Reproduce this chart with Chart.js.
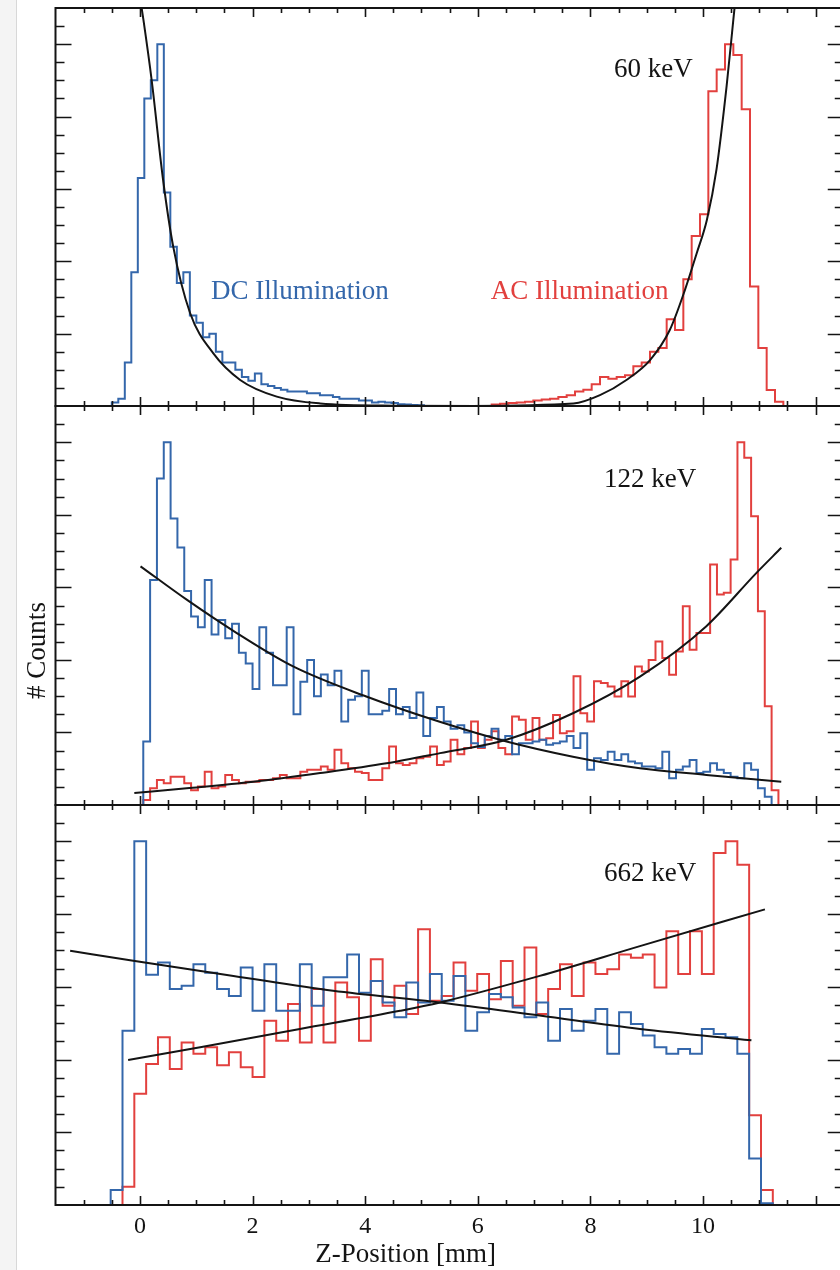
<!DOCTYPE html>
<html lang="en">
<head>
  <meta charset="UTF-8">
  <title>Z-Position</title>
  <style>
    html, body {
      margin: 0;
      padding: 0;
      background: #ffffff;
      overflow: hidden;
    }
    body {
      position: relative;
      width: 840px;
      height: 1270px;
    }
    #strip {
      position: absolute;
      left: 0;
      top: 0;
      width: 16px;
      height: 1270px;
      background: #f4f4f4;
      border-right: 1px solid #d8d8d8;
    }
    canvas {
      position: absolute;
      left: 0;
    }
    #c60 { top: 0; }
    #c122 { top: 400px; }
    #c662 { top: 800px; }
  </style>
</head>
<body>
  <div id="strip"></div>
  <canvas id="c60" width="850" height="410"></canvas>
  <canvas id="c122" width="850" height="410"></canvas>
  <canvas id="c662" width="850" height="470"></canvas>

  <script src="https://cdn.jsdelivr.net/npm/chart.js"></script>
  <script>
    // x axis (mm) and tick labels
    const X_MIN = -1.5, X_MAX = 12.5;
    const X_LABELS = [0, 2, 4, 6, 8, 10];
    const Y_MAX = 1.1;

    // 60 keV: histograms (normalised counts per bin)
    const dc60Start = -0.50, dc60Width = 0.1155;
    const dc60 = [0.01, 0.02, 0.12, 0.37, 0.63, 0.85, 0.90, 1.0, 0.59, 0.44, 0.34, 0.37, 0.25, 0.23, 0.19, 0.20,
      0.15, 0.12, 0.12, 0.10, 0.08, 0.07, 0.09, 0.06, 0.055, 0.05, 0.045, 0.04, 0.04, 0.04, 0.035, 0.035,
      0.03, 0.03, 0.025, 0.02, 0.02, 0.02, 0.015, 0.015, 0.01, 0.012, 0.01, 0.008, 0.005, 0.004, 0.003, 0.002];
    const ac60Start = 6.247, ac60Width = 0.148;
    const ac60 = [0.004, 0.006, 0.008, 0.01, 0.012, 0.015, 0.018, 0.02, 0.025, 0.03, 0.04, 0.045, 0.06, 0.08,
      0.075, 0.08, 0.085, 0.11, 0.12, 0.15, 0.16, 0.24, 0.21, 0.35, 0.47, 0.53, 0.87, 0.93, 1.0, 0.97, 0.82,
      0.33, 0.16, 0.044, 0.012];
    // 60 keV: fit curves
    const dc60FitX = [0.0, 0.06, 0.21, 0.41, 0.59, 0.89, 1.30, 1.78, 2.43, 3.2, 4.5, 6.5];
    const dc60FitY = [1.13, 1.069, 0.898, 0.626, 0.441, 0.257, 0.146, 0.072, 0.026, 0.007, 0.001, 0];
    const ac60FitX = [5.5, 7.70, 8.17, 8.64, 9.06, 9.41, 9.68, 9.89, 10.07, 10.24, 10.42, 10.54, 10.58];
    const ac60FitY = [0, 0.007, 0.030, 0.072, 0.127, 0.21, 0.321, 0.423, 0.515, 0.654, 0.885, 1.069, 1.13];

    // 122 keV
    const dc122Start = 0.059, dc122Width = 0.1213;
    const dc122 = [0.175, 0.62, 0.90, 1.0, 0.79, 0.71, 0.59, 0.52, 0.49, 0.62, 0.47, 0.51, 0.46, 0.50, 0.42,
      0.39, 0.32, 0.49, 0.42, 0.33, 0.33, 0.49, 0.25, 0.34, 0.40, 0.30, 0.36, 0.33, 0.37, 0.23, 0.29, 0.30,
      0.37, 0.25, 0.25, 0.26, 0.32, 0.25, 0.27, 0.24, 0.31, 0.19, 0.24, 0.27,
      0.23, 0.21, 0.22, 0.20, 0.17, 0.16, 0.19, 0.21, 0.18, 0.19, 0.14, 0.17, 0.17, 0.175, 0.18, 0.166,
      0.17, 0.175, 0.19, 0.157, 0.198, 0.097, 0.129, 0.124, 0.147, 0.124, 0.14, 0.12, 0.115, 0.106, 0.106,
      0.101, 0.147, 0.074, 0.097, 0.106, 0.124, 0.088, 0.092, 0.115, 0.097, 0.088, 0.078, 0.074, 0.115,
      0.097, 0.046, 0.023];
    const ac122Start = 0.059, ac122Width = 0.1213;
    const ac122 = [0.014, 0.046, 0.069, 0.06, 0.078, 0.078, 0.06, 0.041, 0.051, 0.092, 0.046, 0.051, 0.083,
      0.069, 0.06, 0.064, 0.064, 0.069, 0.069, 0.074, 0.083, 0.074, 0.074, 0.092, 0.097, 0.097, 0.106, 0.097,
      0.152, 0.115, 0.101, 0.092, 0.088, 0.069, 0.069, 0.101, 0.161, 0.115, 0.11, 0.115, 0.129, 0.133, 0.161,
      0.11,
      0.12, 0.18, 0.14, 0.157, 0.23, 0.157, 0.18, 0.203, 0.157, 0.14, 0.244, 0.235, 0.18, 0.24, 0.18, 0.184,
      0.248, 0.198, 0.203, 0.355, 0.253, 0.23, 0.341, 0.336, 0.327, 0.299, 0.341, 0.299, 0.382, 0.368, 0.40,
      0.451, 0.405, 0.359, 0.423, 0.548, 0.428, 0.474, 0.474, 0.663, 0.58, 0.585, 0.677, 1.0, 0.957, 0.796,
      0.534, 0.272, 0.041];
    const dc122FitX = [0.01, 0.83, 1.72, 2.72, 4.02, 5.31, 6.51, 7.69, 8.88, 10.06, 11.39];
    const dc122FitY = [0.658, 0.566, 0.474, 0.382, 0.299, 0.23, 0.175, 0.133, 0.101, 0.083, 0.064];
    const ac122FitX = [-0.1, 0.83, 2.01, 3.2, 4.38, 5.33, 6.51, 7.69, 8.88, 10.06, 10.95, 11.39];
    const ac122FitY = [0.033, 0.046, 0.064, 0.088, 0.115, 0.143, 0.18, 0.253, 0.354, 0.493, 0.64, 0.709];

    // 662 keV
    const dc662Start = -0.52, dc662Width = 0.21;
    const dc662 = [0.041, 0.479, 1.0, 0.633, 0.667, 0.594, 0.603, 0.662, 0.639, 0.594, 0.575, 0.653, 0.534,
      0.662, 0.534, 0.534, 0.662, 0.548, 0.626, 0.626, 0.689, 0.584, 0.616, 0.557, 0.516, 0.612, 0.557,
      0.635, 0.562, 0.630, 0.479, 0.530, 0.580, 0.571, 0.543, 0.516, 0.557, 0.452, 0.539, 0.479, 0.507,
      0.539, 0.416, 0.530, 0.498, 0.466, 0.434, 0.416, 0.429, 0.416, 0.484, 0.47, 0.461, 0.416, 0.128, 0.005];
    const ac662Start = -0.52, ac662Width = 0.21;
    const ac662 = [0, 0.05, 0.306, 0.388, 0.461, 0.374, 0.447, 0.416, 0.434, 0.384, 0.420, 0.379, 0.352,
      0.507, 0.452, 0.553, 0.447, 0.594, 0.447, 0.612, 0.571, 0.452, 0.676, 0.548, 0.603, 0.525, 0.758,
      0.562, 0.575, 0.667, 0.589, 0.635, 0.566, 0.671, 0.548, 0.708, 0.525, 0.594, 0.662, 0.575, 0.667,
      0.635, 0.648, 0.689, 0.680, 0.689, 0.598, 0.753, 0.635, 0.753, 0.635, 0.968, 1.0, 0.936, 0.247, 0.041];
    const dc662FitX = [-1.24, -0.09, 1.66, 3.43, 5.33, 7.10, 8.88, 10.86];
    const dc662FitY = [0.699, 0.671, 0.630, 0.589, 0.557, 0.521, 0.484, 0.453];
    const ac662FitX = [-0.21, 1.07, 2.84, 4.62, 5.33, 7.10, 8.88, 11.1];
    const ac662FitY = [0.399, 0.434, 0.484, 0.534, 0.557, 0.630, 0.712, 0.813];

    const BLUE = '#3467ab';
    const RED = '#e2403e';
    const INK = '#141414';
    const FONT = '"Liberation Serif", "Times New Roman", serif';

    // outline of a histogram: left edges + closing edge, drawn stepped
    function histPoints(start, width, counts) {
      const pts = [{ x: start, y: 0 }];
      counts.forEach((c, i) => pts.push({ x: start + i * width, y: c }));
      pts.push({ x: start + counts.length * width, y: 0 });
      return pts;
    }

    function curvePoints(xs, ys) {
      return xs.map((x, i) => ({ x: x, y: ys[i] }));
    }

    function histSet(points, color) {
      return {
        data: points,
        borderColor: color,
        borderWidth: 2,
        stepped: true,
        pointRadius: 0,
        fill: false,
        order: 2
      };
    }

    function fitSet(points) {
      return {
        data: points,
        borderColor: INK,
        borderWidth: 2,
        cubicInterpolationMode: 'monotone',
        pointRadius: 0,
        fill: false,
        order: 0
      };
    }

    // closed frame with inward ticks on all four sides
    const framePlugin = {
      id: 'frame',
      afterDatasetsDraw(chart) {
        const ctx = chart.ctx;
        const a = chart.chartArea;
        const x = chart.scales.x, y = chart.scales.y;
        ctx.save();
        ctx.strokeStyle = INK;
        ctx.lineWidth = 2;
        ctx.strokeRect(a.left, a.top, a.right - a.left, a.bottom - a.top);
        ctx.lineWidth = 1.6;
        ctx.beginPath();
        for (let i = 1; i < 28; i++) {
          const v = X_MIN + i * 0.5;
          const px = Math.round(x.getPixelForValue(v)) + 0.5;
          const len = Math.abs(v / 2 - Math.round(v / 2)) < 1e-6 ? 9 : 5;
          ctx.moveTo(px, a.bottom);
          ctx.lineTo(px, a.bottom - len);
          ctx.moveTo(px, a.top);
          ctx.lineTo(px, a.top + len);
        }
        for (let i = 1; i <= 21; i++) {
          const py = Math.round(y.getPixelForValue(i * 0.05)) + 0.5;
          const len = i % 4 === 0 ? 16 : 9;
          ctx.moveTo(a.left, py);
          ctx.lineTo(a.left + len, py);
          ctx.moveTo(a.right, py);
          ctx.lineTo(a.right - len, py);
        }
        ctx.stroke();
        ctx.restore();
      }
    };

    // energy labels, series names and axis titles
    const notesPlugin = {
      id: 'notes',
      afterDatasetsDraw(chart, args, opts) {
        const ctx = chart.ctx;
        const a = chart.chartArea;
        const x = chart.scales.x, y = chart.scales.y;
        ctx.save();
        ctx.textAlign = 'center';
        ctx.textBaseline = 'alphabetic';
        (opts.items || []).forEach(n => {
          ctx.font = (n.size || 27) + 'px ' + FONT;
          ctx.fillStyle = n.color || INK;
          ctx.fillText(n.text, x.getPixelForValue(n.x), y.getPixelForValue(n.y));
        });
        if (opts.yTitle) {
          ctx.translate(a.left - 11, (a.top + a.bottom) / 2 + 45);
          ctx.rotate(-Math.PI / 2);
          ctx.font = '27px ' + FONT;
          ctx.fillStyle = INK;
          ctx.fillText(opts.yTitle, 0, 0);
          ctx.setTransform(1, 0, 0, 1, 0, 0);
        }
        if (opts.xTitle) {
          ctx.font = '27px ' + FONT;
          ctx.fillStyle = INK;
          ctx.fillText(opts.xTitle.text, x.getPixelForValue(opts.xTitle.x), a.bottom + 57);
        }
        ctx.restore();
      }
    };

    function makePanel(id, datasets, padding, showX, notes) {
      const xScale = {
        type: 'linear',
        min: X_MIN,
        max: X_MAX,
        display: showX,
        afterBuildTicks: s => { s.ticks = X_LABELS.map(v => ({ value: v })); },
        grid: { display: false, drawTicks: false },
        border: { display: false },
        ticks: {
          font: { family: FONT, size: 24 },
          color: INK,
          padding: 7,
          maxRotation: 0,
          autoSkip: false
        }
      };
      if (showX) xScale.afterFit = s => { s.height = 65; };
      return new Chart(document.getElementById(id), {
        type: 'line',
        data: { datasets: datasets },
        options: {
          responsive: false,
          animation: false,
          events: [],
          layout: { padding: padding },
          scales: {
            x: xScale,
            y: { type: 'linear', min: 0, max: Y_MAX, display: false }
          },
          plugins: {
            legend: { display: false },
            tooltip: { enabled: false },
            notes: notes
          }
        },
        plugins: [framePlugin, notesPlugin]
      });
    }

    makePanel('c60', [
      fitSet(curvePoints(dc60FitX, dc60FitY)),
      fitSet(curvePoints(ac60FitX, ac60FitY)),
      histSet(histPoints(dc60Start, dc60Width, dc60), BLUE),
      histSet(histPoints(ac60Start, ac60Width, ac60), RED)
    ], { left: 55.5, right: 6.25, top: 8, bottom: 4 }, false, {
      items: [
        { text: '60 keV', x: 9.12, y: 0.908 },
        { text: 'DC Illumination', x: 2.84, y: 0.296, color: BLUE },
        { text: 'AC Illumination', x: 7.81, y: 0.296, color: RED }
      ]
    });

    makePanel('c122', [
      fitSet(curvePoints(dc122FitX, dc122FitY)),
      fitSet(curvePoints(ac122FitX, ac122FitY)),
      histSet(histPoints(dc122Start, dc122Width, dc122), BLUE),
      histSet(histPoints(ac122Start, ac122Width, ac122), RED)
    ], { left: 55.5, right: 6.25, top: 6, bottom: 5 }, false, {
      items: [{ text: '122 keV', x: 9.06, y: 0.878 }],
      yTitle: '# Counts'
    });

    makePanel('c662', [
      fitSet(curvePoints(dc662FitX, dc662FitY)),
      fitSet(curvePoints(ac662FitX, ac662FitY)),
      histSet(histPoints(dc662Start, dc662Width, dc662), BLUE),
      histSet(histPoints(ac662Start, ac662Width, ac662), RED)
    ], { left: 55.5, right: 6.25, top: 5, bottom: 0 }, true, {
      items: [{ text: '662 keV', x: 9.06, y: 0.890 }],
      xTitle: { text: 'Z-Position [mm]', x: 4.72 }
    });
  </script>
</body>
</html>
